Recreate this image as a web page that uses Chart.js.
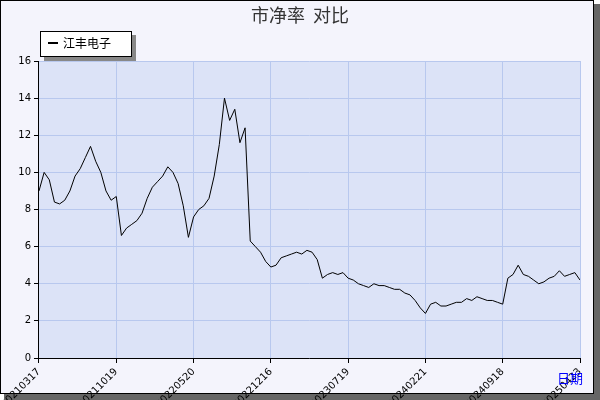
<!DOCTYPE html>
<html><head><meta charset="utf-8">
<script src="https://cdn.jsdelivr.net/npm/chart.js@4"></script>
<style>body{margin:0;background:#fff}canvas{display:block}</style>
</head><body>
<canvas id="c" width="600" height="400"></canvas>
<script>
const seriesName = '江丰电子';
const tickLabels = ['20210317','20211019','20220520','20221216','20230719','20240221','20240918','20250423'];
const pbValues = [9.0,10.0,9.6,8.4,8.3,8.5,9.0,9.8,10.2,10.8,11.4,10.6,10.0,9.0,8.5,8.7,6.6,7.0,7.2,7.4,
 7.8,8.6,9.2,9.5,9.8,10.3,10.0,9.4,8.2,6.5,7.6,8.0,8.2,8.6,9.8,11.5,14.0,12.8,13.4,11.6,
 12.4,6.3,6.0,5.7,5.2,4.9,5.0,5.4,5.5,5.6,5.7,5.6,5.8,5.7,5.3,4.3,4.5,4.6,4.5,4.6,
 4.3,4.2,4.0,3.9,3.8,4.0,3.9,3.9,3.8,3.7,3.7,3.5,3.4,3.1,2.7,2.4,2.9,3.0,2.8,2.8,
 2.9,3.0,3.0,3.2,3.1,3.3,3.2,3.1,3.1,3.0,2.9,4.3,4.5,5.0,4.5,4.4,4.2,4.0,4.1,4.3,
 4.4,4.7,4.4,4.5,4.6,4.2];
const step = 15;

const frame = {
  id: 'frame',
  beforeDraw(chart) {
    const c = chart.ctx, a = chart.chartArea;
    c.save();
    c.fillStyle = '#666'; c.fillRect(4, 394, 596, 6); c.fillRect(594, 4, 6, 396);
    c.fillStyle = '#f4f4fc'; c.fillRect(0, 0, 594, 394);
    c.strokeStyle = '#000'; c.lineWidth = 1; c.strokeRect(0.5, 0.5, 593, 393);
    c.fillStyle = '#dce3f7'; c.fillRect(a.left, a.top, a.right - a.left, a.bottom - a.top);
    c.font = '18px "Noto Sans CJK SC"'; c.fillStyle = '#333'; c.textAlign = 'center';
    c.fillText('市净率  对比', 300, 22);
    c.restore();
  },
  afterDraw(chart) {
    const c = chart.ctx;
    c.save();
    c.fillStyle = '#888'; c.fillRect(44, 35, 92, 26);
    c.fillStyle = '#fff'; c.fillRect(40, 31, 92, 26);
    c.strokeStyle = '#000'; c.lineWidth = 1; c.strokeRect(40.5, 31.5, 91, 25);
    c.fillStyle = '#000'; c.fillRect(48, 42, 10, 2);
    c.font = '12px "Noto Sans CJK SC"'; c.textAlign = 'left'; c.textBaseline = 'middle';
    c.fillText(seriesName, 63, 43);
    c.fillStyle = '#00f'; c.font = '13px "Noto Sans CJK SC"';
    c.fillText('日期', 557, 378);
    c.restore();
  }
};

new Chart(document.getElementById('c'), {
  type: 'line',
  data: {
    labels: pbValues.map((v, i) => i),
    datasets: [{ label: seriesName, data: pbValues.map((v, i) => ({x: i, y: v})),
      borderColor: '#000', borderWidth: 1, pointRadius: 0, tension: 0 }]
  },
  options: {
    responsive: false, animation: false,
    layout: { padding: { top: 61, right: 20, left: 6, bottom: 0 } },
    plugins: { legend: { display: false }, tooltip: { enabled: false } },
    scales: {
      x: { type: 'linear', min: 0, max: pbValues.length - 1,
        afterFit: s => { s.height = 42; },
        ticks: { stepSize: step, autoSkip: false, maxRotation: 45, minRotation: 45,
          color: '#000', font: { size: 10, family: 'DejaVu Sans' },
          callback: v => tickLabels[Math.round(v / step)] || '' },
        grid: { color: '#b8c8ee', tickColor: '#000', tickLength: 5 },
        border: { color: '#000' } },
      y: { min: 0, max: 16,
        ticks: { stepSize: 2, color: '#000', font: { size: 10, family: 'DejaVu Sans' } },
        grid: { color: '#b8c8ee', tickLength: 5, tickColor: '#000' },
        border: { color: '#000' } }
    }
  },
  plugins: [frame]
});
</script>
</body></html>
